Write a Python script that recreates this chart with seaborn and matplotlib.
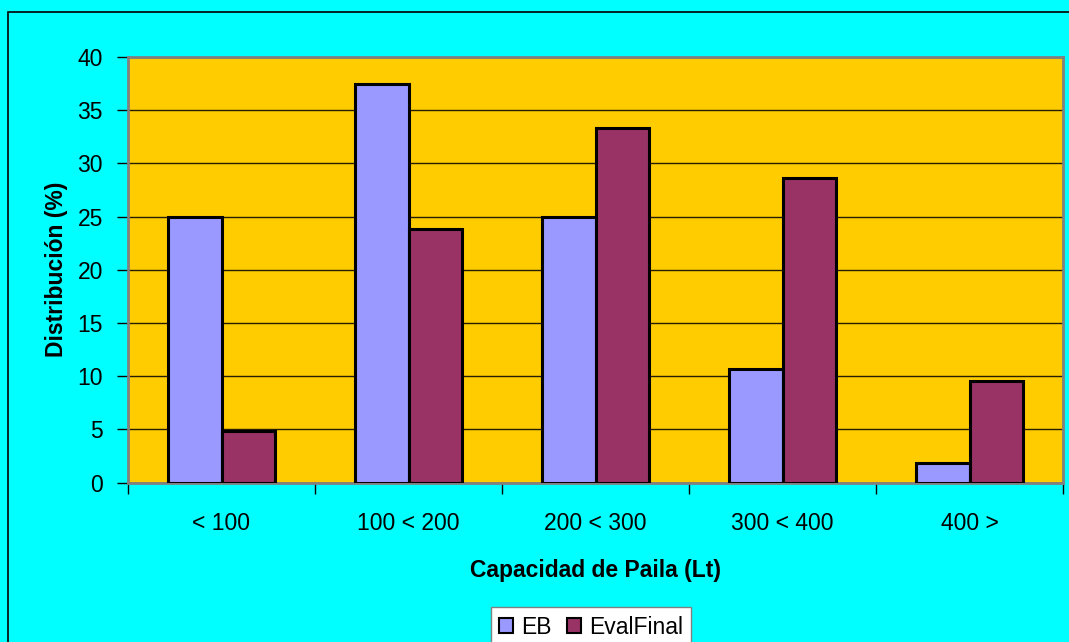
import matplotlib
matplotlib.use("Agg")
import matplotlib.pyplot as plt
from matplotlib.patches import Rectangle, Patch
import seaborn as sns
import pandas as pd

# Distribution of pan capacities, baseline (EB) vs final evaluation
categories = ["< 100", "100 < 200", "200 < 300", "300 < 400", "400 >"]
eb = [25.0, 37.5, 25.0, 10.7, 1.8]
eval_final = [4.8, 23.8, 33.3, 28.6, 9.5]
series_names = ["EB", "EvalFinal"]
y_ticks = [0, 5, 10, 15, 20, 25, 30, 35, 40]

df = pd.DataFrame({
    "Capacidad": categories * 2,
    "Serie": [series_names[0]] * len(categories) + [series_names[1]] * len(categories),
    "Valor": eb + eval_final,
})

sns.set_theme(style="white")
plt.rcParams["font.family"] = ["Liberation Sans", "DejaVu Sans"]
plt.rcParams["text.color"] = "black"
plt.rcParams["axes.labelcolor"] = "black"
plt.rcParams["xtick.color"] = "black"
plt.rcParams["ytick.color"] = "black"

colors = {"EB": "#9999FF", "EvalFinal": "#993366"}

W, H = 1069, 642
fig = plt.figure(figsize=(W / 100, H / 100), dpi=100, facecolor="#00FFFF")
ax = fig.add_axes([128 / W, 1 - 482.5 / H, (1063 - 128) / W, (482.5 - 57) / H])
ax.set_facecolor("#FFCC00")

sns.barplot(data=df, x="Capacidad", y="Valor", hue="Serie", order=categories,
            hue_order=series_names, palette=colors, width=0.571, dodge=True,
            edgecolor="black", linewidth=2.2, saturation=1, legend=False, ax=ax,
            zorder=3)

ax.set_xlim(-0.5, len(categories) - 0.5)
ax.set_ylim(0, 40)
ax.set_yticks(y_ticks)
ax.yaxis.grid(True, color="#000000", linewidth=1.0, alpha=0.85, zorder=1)
ax.set_axisbelow(True)

# category labels centred, tick marks on the category boundaries
ax.set_xticks(range(len(categories)))
ax.set_xticklabels(categories)
ax.set_xticks([i - 0.5 for i in range(len(categories) + 1)], minor=True)
ax.tick_params(axis="x", which="major", length=0, pad=21, labelsize=16.5, colors="black")
ax.tick_params(axis="x", which="minor", length=8, width=1, color="black", direction="out", bottom=True)
ax.tick_params(axis="y", which="major", length=8, width=1, color="black", direction="out",
               left=True, labelsize=16.5, pad=10)

for side in ["left", "bottom", "top", "right"]:
    ax.spines[side].set_visible(True)
    ax.spines[side].set_color("#808080")
    ax.spines[side].set_linewidth(2)

ax.set_xlabel("Capacidad de Paila (Lt)", fontsize=16.5, fontweight="bold")
ax.set_ylabel("Distribución (%)", fontsize=16.5, fontweight="bold")
ax.xaxis.set_label_coords((595 - 128) / (1063 - 128), -(571 - 482.5) / (482.5 - 57))
ax.yaxis.set_label_coords(-(128 - 56) / (1063 - 128), 0.5)
ax.xaxis.label.set_va("center")
ax.yaxis.label.set_va("center")

# outer chart frame
fig.patches.append(Rectangle((8 / W, -0.05), 1.1, 1 - 12 / H + 0.05,
                             transform=fig.transFigure, fill=False,
                             edgecolor="black", linewidth=1.2))

handles = [Patch(facecolor=colors[s], edgecolor="black", linewidth=1.5) for s in series_names]
leg = fig.legend(handles, series_names, loc="center", ncol=2,
                 bbox_to_anchor=(591 / W, 1 - 627 / H), fontsize=16.5,
                 frameon=True, fancybox=False, framealpha=1, edgecolor="#808080",
                 handlelength=0.6, handleheight=0.6, handletextpad=0.35,
                 columnspacing=0.7, borderpad=0.35)
leg.get_frame().set_linewidth(1)

fig.savefig("out.png", dpi=100, facecolor=fig.get_facecolor())
